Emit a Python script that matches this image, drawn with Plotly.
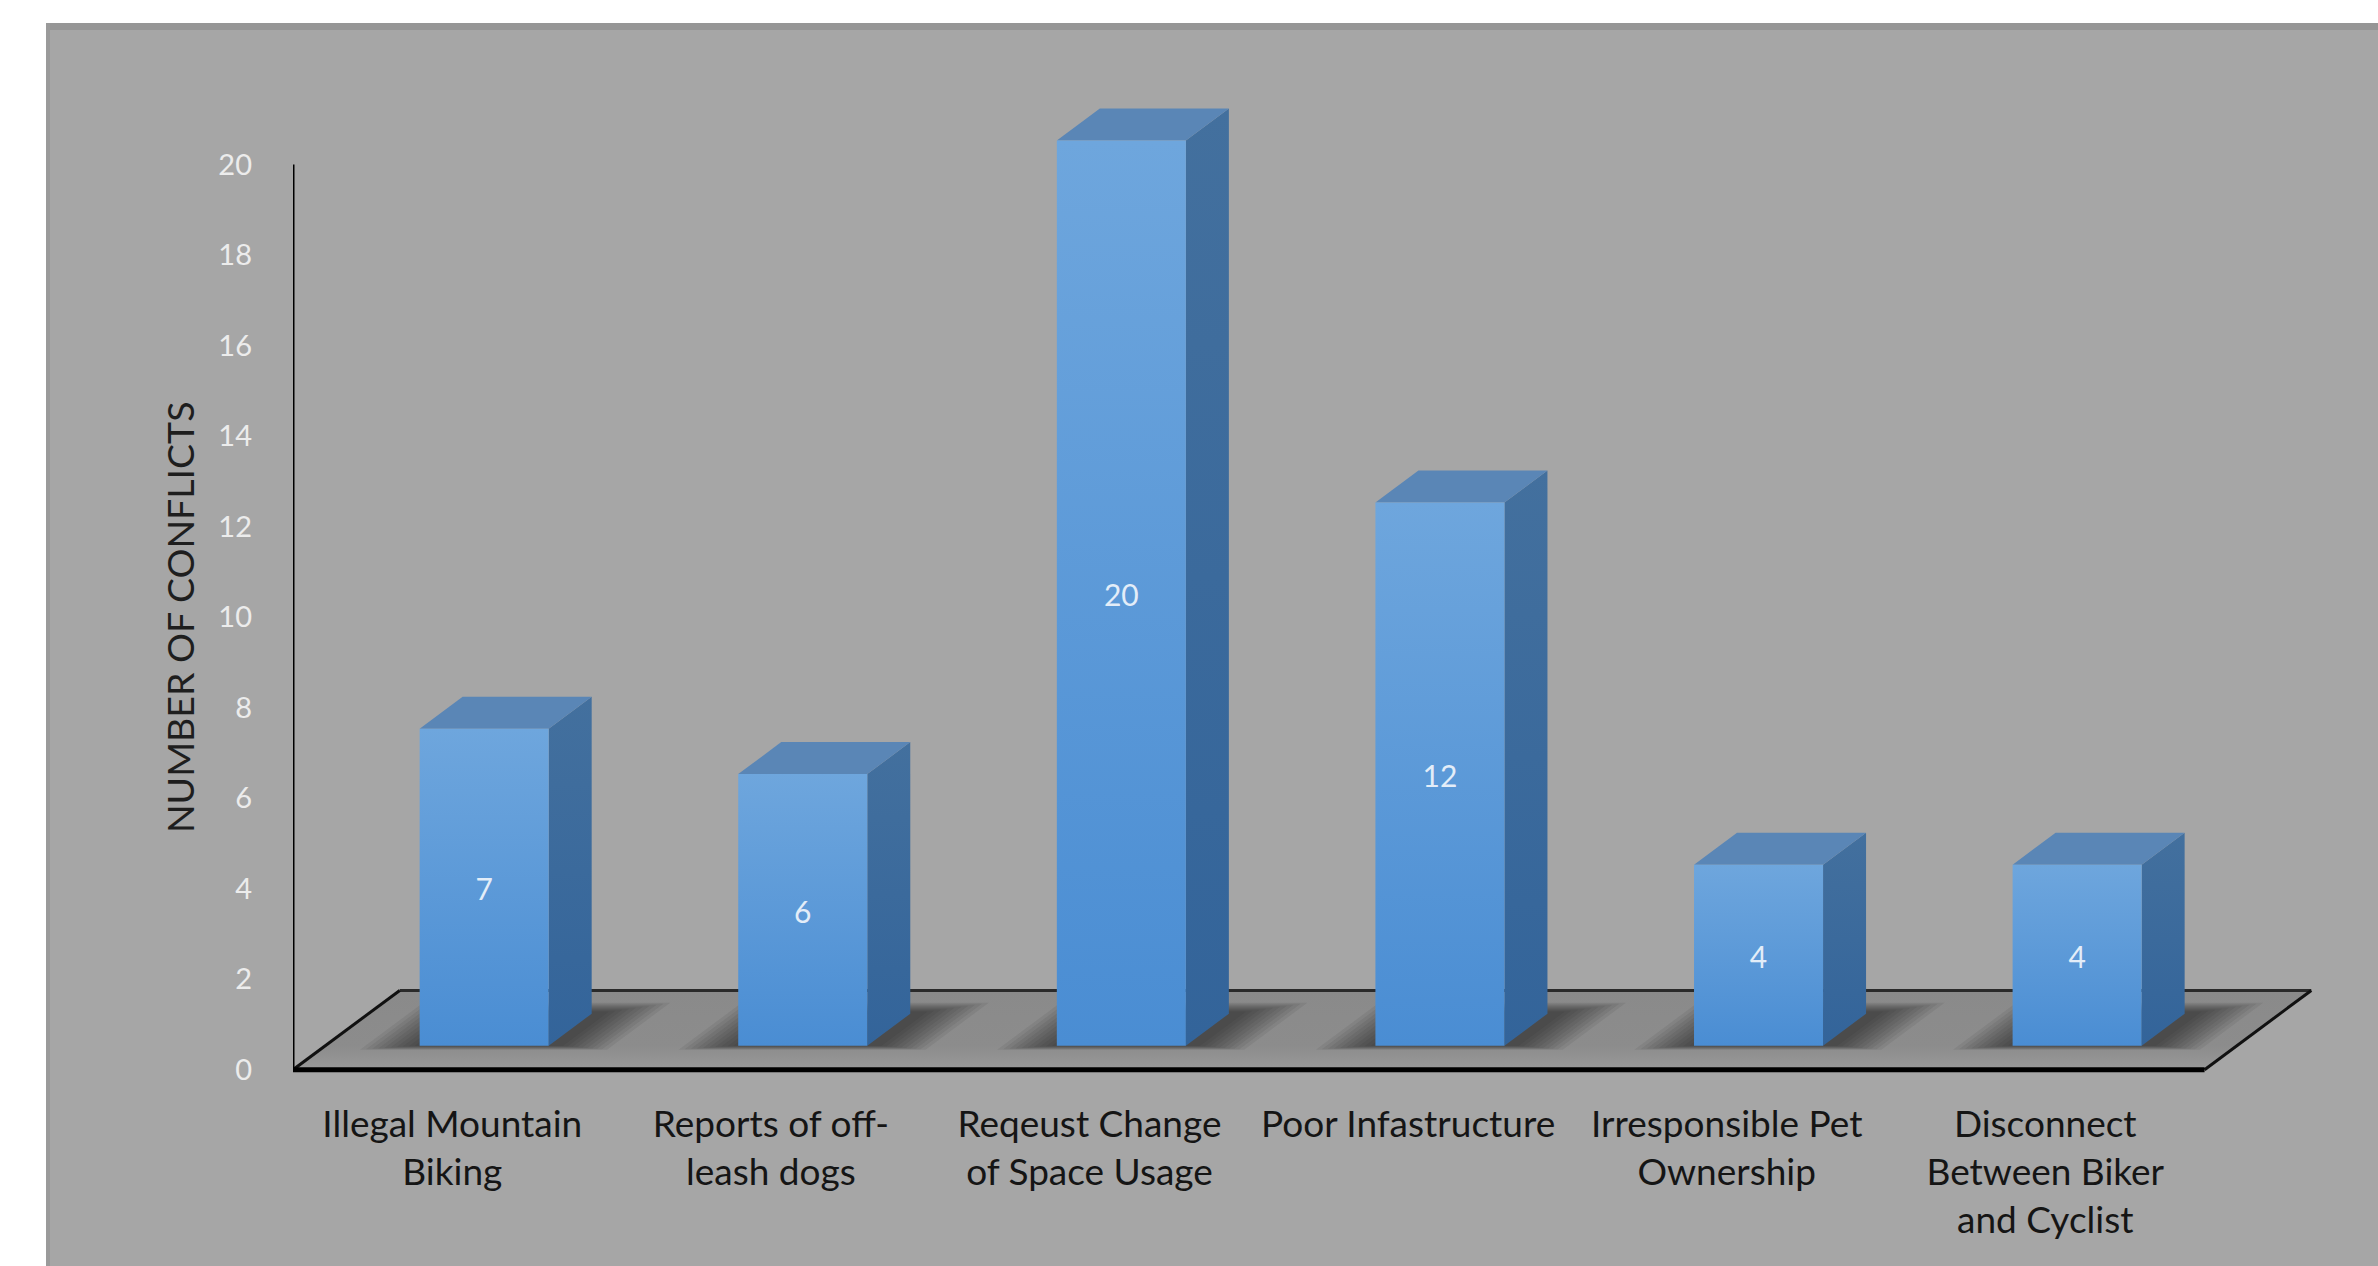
import plotly.graph_objects as go

# ---------------- data ----------------
categories = [
    "Illegal Mountain<br>Biking",
    "Reports of off-<br>leash dogs",
    "Reqeust Change<br>of Space Usage",
    "Poor Infastructure",
    "Irresponsible Pet<br>Ownership",
    "Disconnect<br>Between Biker<br>and Cyclist",
]
conflicts = [7, 6, 20, 12, 4, 4]
y_ticks = [0, 2, 4, 6, 8, 10, 12, 14, 16, 18, 20]
y_title = "NUMBER OF CONFLICTS"

# ---------------- layout / style constants ----------------
W, H = 2378, 1266
ML, MR, MT, MB = 293, 46, 92, 185
PW, PH = W - ML - MR, H - MT - MB
X_RANGE = [-0.5, 5.9]
Y_RANGE = [-0.25, 21.6]

SHIFT_X = 0.10      # floor-front -> bar-front offset (x, category units)
BASE_Y = 0.53       # floor-front -> bar-front offset (y, value units)
BAR_W = 0.405
DEPTH_X = 0.135
DEPTH_Y = 0.707
FLOOR_DX = 0.335
FLOOR_DY = 1.75
SLOPE = DEPTH_X / DEPTH_Y

BG = "#a6a6a6"
FONT = "Lato, Noto Sans, sans-serif"

def pxx(px):
    return (px - ML) / PW

def pxy(py):
    return 1 - (py - MT) / PH

fig = go.Figure()

def poly(xs, ys, color=None, gradient=None, opacity=1.0, line=None):
    kw = dict(x=xs + [xs[0]], y=ys + [ys[0]], mode="lines", fill="toself",
              hoverinfo="skip", showlegend=False, opacity=opacity,
              line=line or dict(width=0, color="rgba(0,0,0,0)"))
    if gradient is not None:
        kw["fillgradient"] = gradient
    else:
        kw["fillcolor"] = color
    fig.add_trace(go.Scatter(**kw))

def seg(xs, ys, color, width):
    fig.add_trace(go.Scatter(x=xs, y=ys, mode="lines", hoverinfo="skip",
                             showlegend=False, line=dict(color=color, width=width)))

n = len(conflicts)
x0f, x1f = -0.5, n - 0.5

# floor
poly([x0f, x1f, x1f + FLOOR_DX, x0f + FLOOR_DX], [0, 0, FLOOR_DY, FLOOR_DY],
     gradient=dict(type="vertical", start=0, stop=FLOOR_DY,
                   colorscale=[[0, "#999999"], [0.3, "#8c8c8c"], [1, "#8a8a8a"]]))

# soft shadows on the floor
LAYERS = 10
for i, v in enumerate(conflicts):
    cx = i + SHIFT_X
    for k in range(LAYERS):
        t = k / (LAYERS - 1)
        ex = 0.17 * (1 - t) + 0.015 * t
        yb = 0.44 + 0.09 * t
        yt = 1.48 - 0.2 * t
        xa = cx - BAR_W / 2 - ex
        xb = cx + BAR_W / 2 + ex + 0.03
        sb = (yb - BASE_Y) * SLOPE
        st = (yt - BASE_Y) * SLOPE
        poly([xa + sb, xb + sb, xb + st, xa + st], [yb, yb, yt, yt],
             color="#151515", opacity=0.075)

# floor outline
seg([x0f + FLOOR_DX, x1f + FLOOR_DX], [FLOOR_DY, FLOOR_DY], "#2a2a2a", 3)
seg([x0f, x0f + FLOOR_DX], [0, FLOOR_DY], "#111111", 3)
seg([x1f, x1f + FLOOR_DX], [0, FLOOR_DY], "#111111", 3)
seg([x0f, x1f], [0, 0], "#000000", 5)
# value axis line
seg([x0f, x0f], [0, y_ticks[-1]], "#000000", 3)

# bars
for i, v in enumerate(conflicts):
    cx = i + SHIFT_X
    xl, xr = cx - BAR_W / 2, cx + BAR_W / 2
    yb, yt = BASE_Y, BASE_Y + v
    # side face
    poly([xr, xr + DEPTH_X, xr + DEPTH_X, xr], [yb, yb + DEPTH_Y, yt + DEPTH_Y, yt],
         gradient=dict(type="vertical", start=yb, stop=yt + DEPTH_Y,
                       colorscale=[[0, "#33649a"], [1, "#43709e"]]))
    # top face
    poly([xl, xr, xr + DEPTH_X, xl + DEPTH_X], [yt, yt, yt + DEPTH_Y, yt + DEPTH_Y],
         color="#5a86b6")
    # front face
    poly([xl, xr, xr, xl], [yb, yb, yt, yt],
         gradient=dict(type="vertical", start=yb, stop=yt,
                       colorscale=[[0, "#4a8dd3"], [1, "#6ea6dd"]]))

# data labels
fig.add_trace(go.Scatter(
    x=[i + SHIFT_X for i in range(n)],
    y=[BASE_Y + v / 2 - 0.12 for v in conflicts],
    text=[str(v) for v in conflicts], mode="text", hoverinfo="skip", showlegend=False,
    textfont=dict(family=FONT, size=30, color="#e3edf8")))

# axis title
fig.add_annotation(text=y_title, xref="paper", yref="y", x=pxx(179), y=y_ticks[-1] / 2,
                   textangle=-90, showarrow=False, xanchor="center", yanchor="middle",
                   font=dict(family=FONT, size=37.5, color="#1e1e1e"))

shapes = [
    dict(type="rect", xref="paper", yref="paper", x0=pxx(0), x1=pxx(46), y0=pxy(H), y1=pxy(0),
         fillcolor="white", line=dict(width=0), layer="below"),
    dict(type="rect", xref="paper", yref="paper", x0=pxx(0), x1=pxx(W), y0=pxy(23), y1=pxy(0),
         fillcolor="white", line=dict(width=0), layer="below"),
    dict(type="rect", xref="paper", yref="paper", x0=pxx(46), x1=pxx(W), y0=pxy(30), y1=pxy(23),
         fillcolor="#969696", line=dict(width=0), layer="below"),
    dict(type="rect", xref="paper", yref="paper", x0=pxx(46), x1=pxx(50), y0=pxy(H), y1=pxy(23),
         fillcolor="#9a9a9a", line=dict(width=0), layer="below"),
]

fig.update_layout(
    width=W, height=H,
    margin=dict(l=ML, r=MR, t=MT, b=MB, pad=0),
    paper_bgcolor=BG, plot_bgcolor="rgba(0,0,0,0)",
    showlegend=False, hovermode=False,
    shapes=shapes,
    xaxis=dict(range=X_RANGE, tickmode="array", tickvals=list(range(n)), ticktext=categories,
               showgrid=False, zeroline=False, showline=False, ticks="",
               ticklabelstandoff=18,
               tickfont=dict(family=FONT, size=37, color="#151515")),
    yaxis=dict(range=Y_RANGE, tickmode="array", tickvals=y_ticks,
               ticktext=[str(t) for t in y_ticks],
               showgrid=False, zeroline=False, showline=False, ticks="",
               ticklabelstandoff=40,
               tickfont=dict(family=FONT, size=29, color="#ececec")),
)

fig.write_html("out.html")
